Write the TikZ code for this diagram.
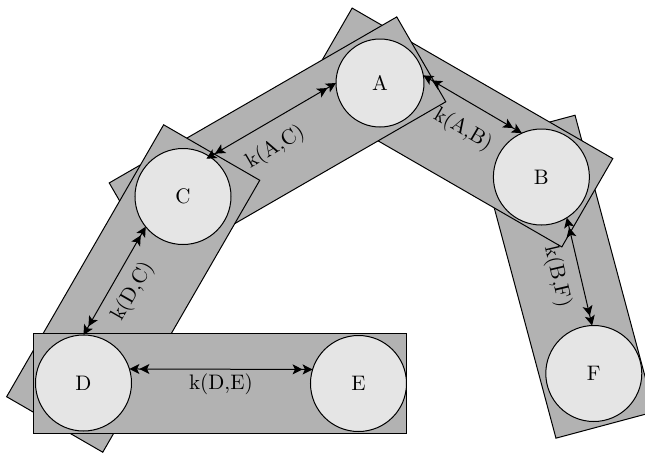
\documentclass[tikz,border=0pt]{standalone}
\usetikzlibrary{arrows.meta}
\begin{document}
\begin{tikzpicture}[x=0.5pt,y=0.5pt,
  font=\fontsize{10.5}{12}\selectfont,
  band/.style 2 args={draw=black, fill=gray!60, line width=0.5pt, inner sep=0pt, outer sep=0pt,
    minimum width=#1*0.5pt, minimum height=#2*0.5pt},
  ball/.style={circle, draw=black, fill=gray!20, line width=0.5pt, inner sep=0pt, outer sep=0pt,
    minimum size=#1*0.5pt},
  >={Stealth[length=5pt,width=5pt,inset=1.2pt]},
  link/.style={line width=0.5pt, <<->>},
  lab/.style={inner sep=0pt, sloped}]
\useasboundingbox (0,0) rectangle (645,-452);
\clip (0,0) rectangle (645,-452);
% bands
\node[band={307}{102}, rotate=-75] (rBF) at (565.5,-276.7) {};
\node[band={301}{102}, rotate=-30] (rAB) at (457,-127.5) {};
\node[band={332}{98}, rotate=30] (rAC) at (277.5,-142.35) {};
\node[band={314}{111}, rotate=60] (rDC) at (133.2,-288.5) {};
\node[band={373}{100}] (rDE) at (220.5,-383) {};
% circles
\node[ball=88] (A) at (380,-83) {A};
\node[ball=96] (B) at (541.4,-177) {B};
\node[ball=96] (C) at (183,-196.5) {C};
\node[ball=96] (D) at (83.5,-383) {D};
\node[ball=96] (E) at (358.5,-383.5) {E};
\node[ball=96] (F) at (593.8,-373.5) {F};
% springs
\draw[link] (D.17) -- node[lab, below=2pt] {k(D,E)} (E.163);
\draw[link] (D.north) -- node[lab, below=5pt] {k(D,C)} (C.219);
\draw[link, shorten <=-2pt] (C.56) -- node[lab, pos=0.42, below=7pt] {k(A,C)} (A.west);
\draw[link] (A.10) -- node[lab, pos=0.54, below=8pt] {k(A,B)} (B.114);
\draw[link] (B.-58) -- node[lab, below=6pt] {k(B,F)} (F.92);
\end{tikzpicture}
\end{document}
